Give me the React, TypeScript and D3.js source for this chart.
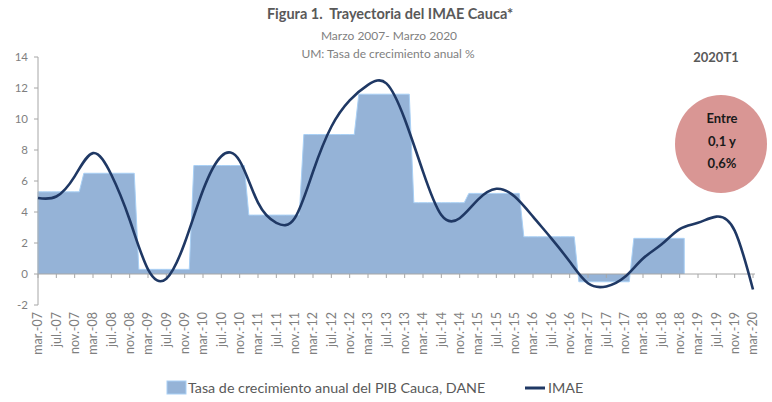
import { scaleLinear, area, line, curveNatural, curveLinear } from "d3";

// x labels, one every 4 months
const tickLabels = [
  "mar.-07", "jul.-07", "nov.-07", "mar.-08", "jul.-08", "nov.-08",
  "mar.-09", "jul.-09", "nov.-09", "mar.-10", "jul.-10", "nov.-10",
  "mar.-11", "jul.-11", "nov.-11", "mar.-12", "jul.-12", "nov.-12",
  "mar.-13", "jul.-13", "nov.-13", "mar.-14", "jul.-14", "nov.-14",
  "mar.-15", "jul.-15", "nov.-15", "mar.-16", "jul.-16", "nov.-16",
  "mar.-17", "jul.-17", "nov.-17", "mar.-18", "jul.-18", "nov.-18",
  "mar.-19", "jul.-19", "nov.-19", "mar.-20",
];

// annual PIB growth (DANE), 2007..2018
const pibYears = [2007, 2008, 2009, 2010, 2011, 2012, 2013, 2014, 2015, 2016, 2017, 2018];
const pibValues = [5.3, 6.5, 0.3, 7.0, 3.8, 9.0, 11.6, 4.6, 5.2, 2.4, -0.5, 2.3];

// IMAE read at each x label
const imaeValues = [
  4.9, 5.0, 6.3, 7.8, 6.4, 3.5, 0.3, -0.3, 2.0, 5.4,
  7.6, 7.3, 4.6, 3.3, 3.6, 6.6, 9.5, 11.2, 12.2, 12.3,
  10.0, 6.6, 3.8, 3.6, 4.8, 5.5, 5.0, 3.7, 2.3, 0.8,
  -0.6, -0.8, -0.2, 1.0, 1.9, 2.9, 3.3, 3.7, 2.8, -1.0,
];

const yTicks = [-2, 0, 2, 4, 6, 8, 10, 12, 14];

const FONT = "Lato, 'Noto Sans', sans-serif";
const W = 772;
const H = 402;

export default function App() {
  const x = scaleLinear().domain([0, 156]).range([38, 753]); // months since mar-07
  const y = scaleLinear().domain([-2, 14]).range([305, 57]);

  // monthly step series: each month carries its calendar year's value
  const lastMonth = (pibYears[pibYears.length - 1] - 2007) * 12 + 9; // dec of last year
  const pibMonthly: [number, number][] = [];
  for (let m = 0; m <= lastMonth; m++) {
    const yr = 2007 + Math.floor((m + 2) / 12);
    pibMonthly.push([m, pibValues[pibYears.indexOf(yr)]]);
  }

  const areaGen = area<[number, number]>()
    .x((d) => x(d[0]))
    .y0(y(0))
    .y1((d) => y(d[1]))
    .curve(curveLinear);

  const topLine = line<[number, number]>()
    .x((d) => x(d[0]))
    .y((d) => y(d[1]));

  const imaeLine = line<number>()
    .x((_, i) => x(i * 4))
    .y((d) => y(d))
    .curve(curveNatural);

  const pibOutline: [number, number][] = [
    [0, 0],
    ...pibMonthly,
    [lastMonth, 0],
  ];

  return (
    <svg width={W} height={H} style={{ position: "absolute", left: 0, top: 0, background: "#fff" }}>
      {/* titles */}
      <text x={390} y={19} textAnchor="middle" fontFamily={FONT} fontWeight="bold" fontSize={14.5} fill="#595959">
        Figura 1.{"\u00a0\u00a0"}Trayectoria del IMAE Cauca*
      </text>
      <text x={389} y={40} textAnchor="middle" fontFamily={FONT} fontSize={12} fill="#7f7f7f">
        Marzo 2007- Marzo 2020
      </text>
      <text x={388} y={58} textAnchor="middle" fontFamily={FONT} fontSize={12} fill="#7f7f7f">
        UM: Tasa de crecimiento anual %
      </text>
      <text x={716} y={62} textAnchor="middle" fontFamily={FONT} fontWeight="bold" fontSize={13} fill="#595959">
        2020T1
      </text>

      {/* PIB area */}
      <path d={areaGen(pibMonthly) ?? ""} fill="#95b3d7" />
      <path d={topLine(pibOutline) ?? ""} fill="none" stroke="#a9d0f5" strokeWidth={1} />

      {/* y axis */}
      <line x1={x(0)} x2={x(0)} y1={y(14)} y2={y(-2)} stroke="#a6a6a6" />
      {yTicks.map((t) => (
        <g key={t}>
          <line x1={x(0) - 4} x2={x(0)} y1={y(t)} y2={y(t)} stroke="#a6a6a6" />
          <text x={x(0) - 10} y={y(t)} dy="0.35em" textAnchor="end" fontFamily={FONT} fontSize={11.5} fill="#7f7f7f">
            {t}
          </text>
        </g>
      ))}

      {/* x axis */}
      <line x1={x(0)} x2={x(156) + 2} y1={y(0)} y2={y(0)} stroke="#a6a6a6" />
      {tickLabels.map((lab, i) => (
        <g key={lab}>
          <line x1={x(i * 4)} x2={x(i * 4)} y1={y(0)} y2={y(0) + 4} stroke="#a6a6a6" />
          <text
            transform={`translate(${x(i * 4)},312) rotate(-90)`}
            dy="0.35em"
            textAnchor="end"
            fontFamily={FONT}
            fontSize={12.5}
            fill="#7f7f7f"
          >
            {lab}
          </text>
        </g>
      ))}

      {/* IMAE line */}
      <path d={imaeLine(imaeValues) ?? ""} fill="none" stroke="#1f3864" strokeWidth={2.6} strokeLinejoin="round" />

      {/* callout */}
      <ellipse cx={721} cy={144} rx={46} ry={49} fill="#d99694" />
      <g fontFamily={FONT} fontWeight="bold" fontSize={13} fill="#1a1a1a" textAnchor="middle">
        <text x={722} y={123}>Entre</text>
        <text x={722} y={146}>0,1 y</text>
        <text x={722} y={168}>0,6%</text>
      </g>

      {/* legend */}
      <rect x={167} y={381} width={19} height={13} fill="#95b3d7" stroke="#a9d0f5" />
      <text x={188} y={393} fontFamily={FONT} fontSize={14.3} fill="#595959">
        Tasa de crecimiento anual del PIB Cauca, DANE
      </text>
      <line x1={525} x2={545} y1={388} y2={388} stroke="#1f3864" strokeWidth={3} />
      <text x={548} y={393} fontFamily={FONT} fontSize={14.3} fill="#595959">
        IMAE
      </text>
    </svg>
  );
}
